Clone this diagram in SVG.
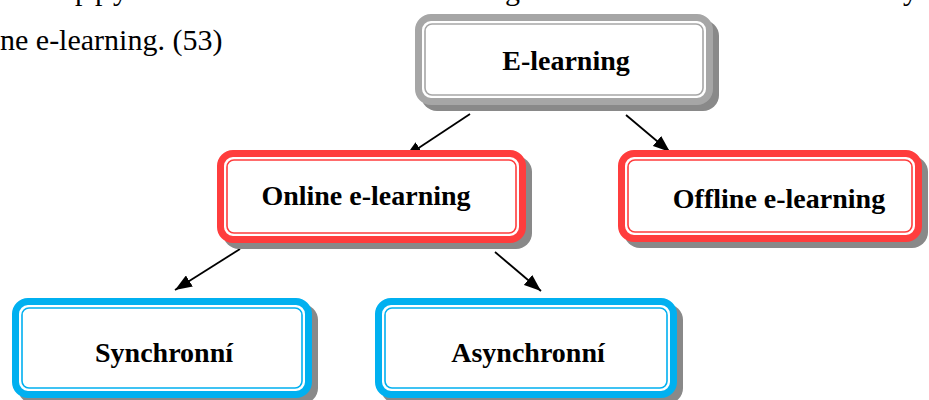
<svg xmlns="http://www.w3.org/2000/svg" width="929" height="400" viewBox="0 0 929 400">
  <style>
    .body { font-size: 30px; fill: #000; }
    .label { font-size: 28px; font-weight: bold; fill: #000; text-anchor: middle; }
    .shadow { fill: #898989; }
    .band { fill: #fff; stroke-width: 7; }
    .thin { fill: none; stroke-width: 1.6; }
    .gray { stroke: #a6a6a6; }
    .red { stroke: #ff3d3d; }
    .blue { stroke: #00b0f0; }
    .link { stroke: #000; stroke-width: 1.8; fill: none; marker-end: url(#arrow); }
  </style>
  <defs>
    <marker id="arrow" markerUnits="userSpaceOnUse" markerWidth="17" markerHeight="13" refX="17" refY="6.5" orient="auto">
      <path d="M0,0 L17,6.5 L0,13 Z" fill="#000"/>
    </marker>
  </defs>

  <rect width="929" height="400" fill="#fff"/>

  <g font-family="Liberation Serif, Tinos, DejaVu Serif, serif">
    <!-- surrounding body text -->
    <g id="body-text">
      <text class="body" x="75" y="0">p</text>
      <text class="body" x="95" y="0">p</text>
      <text class="body" x="113" y="0">y</text>
      <text class="body" x="505" y="0">g</text>
      <text class="body" x="903" y="0">y</text>
      <text class="body" x="0" y="50">ne e-learning. (53)</text>
    </g>

    <!-- connectors -->
    <g id="connectors">
      <line class="link" x1="470" y1="114" x2="405" y2="157"/>
      <line class="link" x1="626" y1="115" x2="670" y2="152"/>
      <line class="link" x1="240" y1="249" x2="175" y2="290"/>
      <line class="link" x1="495" y1="252" x2="541" y2="291"/>
    </g>

    <g id="node-elearning">
      <rect class="shadow" x="421" y="20" width="298" height="91" rx="16"/>
      <rect class="band gray" x="418.5" y="17.5" width="291" height="84" rx="12.5"/>
      <rect class="thin gray" x="425" y="24" width="278" height="71" rx="7"/>
      <text class="label" x="566" y="70">E-learning</text>
    </g>

    <g id="node-online">
      <rect class="shadow" x="223" y="156" width="309" height="93" rx="16"/>
      <rect class="band red" x="220.5" y="153.5" width="302" height="86" rx="12.5"/>
      <rect class="thin red" x="227" y="160" width="289" height="73" rx="7"/>
      <text class="label" x="366" y="205">Online e-learning</text>
    </g>

    <g id="node-offline">
      <rect class="shadow" x="624" y="156" width="304" height="92" rx="16"/>
      <rect class="band red" x="621.5" y="153.5" width="297" height="85" rx="12.5"/>
      <rect class="thin red" x="628" y="160" width="284" height="72" rx="7"/>
      <text class="label" x="779" y="208">Offline e-learning</text>
    </g>

    <g id="node-synchronni">
      <rect class="shadow" x="18" y="304" width="300" height="100" rx="16"/>
      <rect class="band blue" x="15.5" y="301.5" width="293" height="93" rx="12.5"/>
      <rect class="thin blue" x="22" y="308" width="280" height="80" rx="7"/>
      <text class="label" x="164" y="362">Synchronní</text>
    </g>

    <g id="node-asynchronni">
      <rect class="shadow" x="381" y="304" width="302" height="100" rx="16"/>
      <rect class="band blue" x="378.5" y="301.5" width="295" height="93" rx="12.5"/>
      <rect class="thin blue" x="385" y="308" width="282" height="80" rx="7"/>
      <text class="label" x="528" y="362">Asynchronní</text>
    </g>
  </g>
</svg>
